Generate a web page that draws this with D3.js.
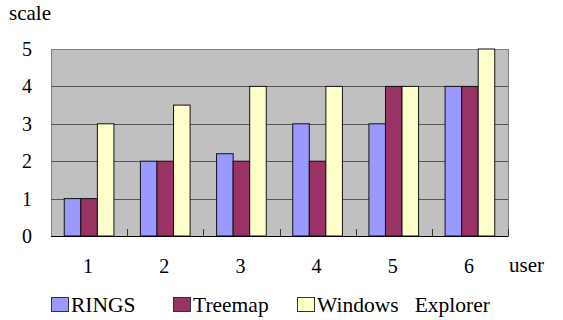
<!DOCTYPE html>
<html>
<head>
<meta charset="utf-8">
<script src="https://cdn.jsdelivr.net/npm/d3@7"></script>
</head>
<body style="margin:0">
<svg id="chart" width="563" height="320"></svg>
<script>
// Ratings per user for each file-browsing tool
const users = ["1", "2", "3", "4", "5", "6"];
const seriesNames = ["RINGS", "Treemap", "Windows   Explorer"];
const ringsValues = [1, 2, 2.2, 3, 3, 4];
const treemapValues = [1, 2, 2, 2, 4, 4];
const explorerValues = [3, 3.5, 4, 4, 4, 5];
const yTicks = [0, 1, 2, 3, 4, 5];
const seriesColors = ["#9999FF", "#993366", "#FFFFCC"];

const allSeries = [ringsValues, treemapValues, explorerValues];
const face = '"Liberation Serif"';

const svg = d3.select("#chart");
const plot = { left: 51, right: 508, top: 49, bottom: 236 };

const x = d3.scaleBand().domain(users).range([plot.left, plot.right]).paddingInner(0).paddingOuter(0);
const inner = d3.scaleBand().domain(d3.range(seriesNames.length))
  .range([0, x.bandwidth()]).paddingInner(0).paddingOuter(0.8);
const y = d3.scaleLinear().domain([0, 5]).range([plot.bottom, plot.top]);

// Plot background
svg.append("rect")
  .attr("x", plot.left + 0.5).attr("y", plot.top + 0.5)
  .attr("width", plot.right - plot.left).attr("height", plot.bottom - plot.top)
  .attr("fill", "#C0C0C0").attr("stroke", "#808080").attr("stroke-width", 1);

// Horizontal gridlines
svg.append("g")
  .selectAll("line")
  .data(yTicks.filter(d => d > 0 && d < 5))
  .join("line")
  .attr("x1", plot.left).attr("x2", plot.right)
  .attr("y1", d => Math.round(y(d)) + 0.5).attr("y2", d => Math.round(y(d)) + 0.5)
  .attr("stroke", "#555").attr("stroke-width", 1);

// Bars
const groups = svg.append("g")
  .selectAll("g")
  .data(users)
  .join("g")
  .attr("transform", d => `translate(${x(d)},0)`);

groups.selectAll("rect")
  .data((u, i) => allSeries.map((s, k) => ({ k, v: s[i] })))
  .join("rect")
  .attr("x", d => inner(d.k))
  .attr("y", d => y(d.v))
  .attr("width", inner.bandwidth())
  .attr("height", d => y(0) - y(d.v))
  .attr("fill", d => seriesColors[d.k])
  .attr("stroke", "#111").attr("stroke-width", 1);

// Category axis with small inward ticks between groups
svg.append("line")
  .attr("x1", plot.left).attr("x2", plot.right)
  .attr("y1", plot.bottom + 0.5).attr("y2", plot.bottom + 0.5)
  .attr("stroke", "#000").attr("stroke-width", 1.2);
svg.append("g")
  .selectAll("line")
  .data(users.slice(1).concat(["end"]))
  .join("line")
  .attr("x1", (d, i) => Math.round(plot.left + x.bandwidth() * (i + 1)) + 0.5)
  .attr("x2", (d, i) => Math.round(plot.left + x.bandwidth() * (i + 1)) + 0.5)
  .attr("y1", plot.bottom).attr("y2", plot.bottom - 7)
  .attr("stroke", "#333").attr("stroke-width", 1);

// Value axis labels
svg.append("g")
  .selectAll("text")
  .data(yTicks)
  .join("text")
  .attr("x", 27).attr("y", d => y(d) + 7)
  .attr("text-anchor", "middle")
  .attr("font-size", 20)
  .style("font-family", face)
  .text(d => d);

// Category labels
svg.append("g")
  .selectAll("text")
  .data(users)
  .join("text")
  .attr("x", d => x(d) + x.bandwidth() / 2 - 1)
  .attr("y", 273)
  .attr("text-anchor", "middle")
  .attr("font-size", 20)
  .style("font-family", face)
  .text(d => d);

// Axis titles
svg.append("text").attr("x", 9).attr("y", 20)
  .attr("font-size", 21).style("font-family", face).text("scale");
svg.append("text").attr("x", 509).attr("y", 272)
  .attr("font-size", 21).style("font-family", face).text("user");

// Legend
const legendX = [51, 173, 297];
const legend = svg.append("g")
  .selectAll("g")
  .data(seriesNames)
  .join("g")
  .attr("transform", (d, i) => `translate(${legendX[i]},0)`);
legend.append("rect")
  .attr("x", 0.5).attr("y", 297.5).attr("width", 17).attr("height", 14)
  .attr("fill", (d, i) => seriesColors[i])
  .attr("stroke", "#333").attr("stroke-width", 1);
legend.append("text")
  .attr("x", 20).attr("y", 312)
  .attr("font-size", 21.5)
  .style("font-family", face)
  .style("white-space", "pre")
  .text(d => d);
</script>
</body>
</html>
